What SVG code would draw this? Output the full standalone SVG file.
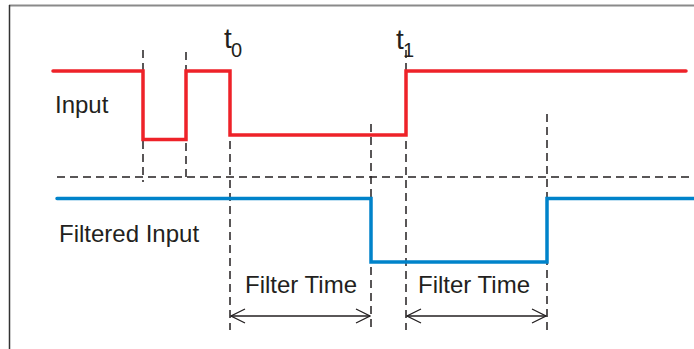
<svg xmlns="http://www.w3.org/2000/svg" width="694" height="349" viewBox="0 0 694 349">
<defs>
<style>
.lbl{font-family:"Liberation Sans",Arial,sans-serif;fill:#231f20;font-size:24px}
.dash{stroke:#231f20;stroke-width:1.5;stroke-dasharray:8 5;fill:none}
.red{stroke:#ee2229;stroke-width:3.5;fill:none;stroke-linecap:round}
.blue{stroke:#0083ca;stroke-width:3.5;fill:none;stroke-linecap:round}
.dim{stroke:#231f20;stroke-width:1.3;fill:none}
</style>
<marker id="ah" viewBox="0 0 16 16" refX="15" refY="8" markerWidth="16" markerHeight="16" markerUnits="userSpaceOnUse" orient="auto-start-reverse">
<path d="M1,1 L15,8 L1,15" fill="none" stroke="#231f20" stroke-width="1.3"/>
</marker>
</defs>
<rect width="694" height="349" fill="#fff"/>
<g id="frame">
<line x1="9" y1="5.5" x2="694" y2="5.5" stroke="#8a8a8a" stroke-width="2"/>
<line x1="9.5" y1="5" x2="9.5" y2="349" stroke="#333" stroke-width="1.5"/>
</g>
<g id="guides">
<line class="dash" x1="57" y1="177" x2="694" y2="177"/>
<line class="dash" x1="143" y1="50" x2="143" y2="182"/>
<line class="dash" x1="186" y1="52" x2="186" y2="182"/>
<line class="dash" x1="230" y1="115" x2="230" y2="330"/>
<line class="dash" x1="371" y1="124" x2="371" y2="330"/>
<line class="dash" x1="406" y1="50" x2="406" y2="330"/>
<line class="dash" x1="547" y1="114" x2="547" y2="330"/>
</g>
<g id="input">
<polyline class="red" points="53,71 143,71 143,139.5 186,139.5 186,71 230,71 230,135 406,135 406,71 686,71"/>
<text class="lbl" x="55" y="113">Input</text>
</g>
<g id="filtered-input">
<polyline class="blue" points="57,198.5 371,198.5 371,262 547,262 547,198.5 694,198.5"/>
<text class="lbl" x="59" y="242">Filtered Input</text>
</g>
<g id="t0">
<text class="lbl" x="224" y="48" style="font-size:28px">t</text>
<text class="lbl" x="231" y="57" style="font-size:20px">0</text>
</g>
<g id="t1">
<text class="lbl" x="396" y="49" style="font-size:28px">t</text>
<text class="lbl" x="403" y="57" style="font-size:20px">1</text>
</g>
<g id="filter-time-1">
<text class="lbl" x="245" y="292.5">Filter Time</text>
</g>
<g id="filter-time-2">
<text class="lbl" x="418" y="292.5">Filter Time</text>
</g>
<g id="connectors">
<line class="dim" x1="231" y1="316" x2="370" y2="316" marker-start="url(#ah)" marker-end="url(#ah)"/>
<line class="dim" x1="407" y1="316" x2="546" y2="316" marker-start="url(#ah)" marker-end="url(#ah)"/>
</g>
</svg>
